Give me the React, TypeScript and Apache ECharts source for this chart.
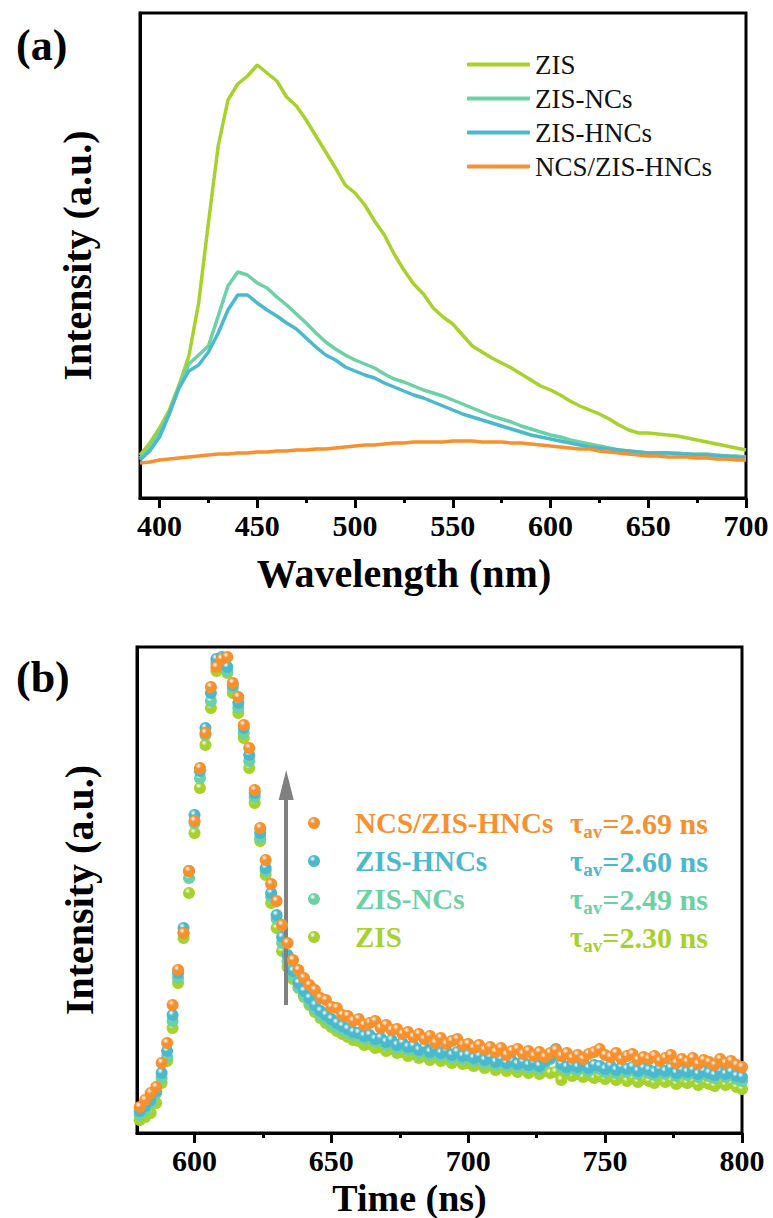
import React, { useEffect, useRef } from "react";
import * as echarts from "echarts";

// ---------- Panel (a): steady-state PL spectra ----------
const wavelengths = [
  390, 395, 400, 405, 410, 415, 420, 425, 430, 435,
  440, 445, 450, 455, 460, 465, 470, 475, 480, 485,
  490, 495, 500, 505, 510, 515, 520, 525, 530, 535,
  540, 545, 550, 555, 560, 565, 570, 575, 580, 585,
  590, 595, 600, 605, 610, 615, 620, 625, 630, 635,
  640, 645, 650, 655, 660, 665, 670, 675, 680, 685,
  690, 695, 700,
];
const plZIS = [
  43, 55, 70, 88, 113, 142, 195, 275, 352, 398,
  414, 422, 433, 425, 417, 401, 392, 378, 362, 346,
  330, 313, 305, 293, 277, 263, 244, 228, 214, 204,
  190, 181, 174, 163, 152, 146, 140, 135, 130, 124,
  118, 112, 108, 103, 97, 92, 88, 84, 79, 73,
  68, 65, 65, 64, 63, 62, 60, 58, 56, 54,
  52, 50, 48,
];
const plZISNCs = [
  40, 50, 66, 85, 112, 134, 143, 152, 182, 212,
  226, 223, 215, 210, 201, 193, 184, 175, 165, 156,
  149, 143, 138, 134, 130, 124, 119, 116, 112, 108,
  105, 102, 98, 94, 90, 86, 82, 79, 76, 72,
  69, 66, 63, 61, 58, 56, 54, 52, 50, 48,
  47, 46, 45, 45, 45, 45, 44, 44, 44, 43,
  42, 42, 41,
];
const plZISHNCs = [
  38, 47, 61, 84, 110, 127, 133, 146, 165, 188,
  203, 203, 195, 188, 182, 175, 169, 160, 151, 143,
  138, 131, 127, 123, 120, 115, 111, 107, 103, 100,
  96, 92, 88, 84, 81, 78, 75, 72, 69, 66,
  63, 61, 59, 57, 55, 53, 51, 50, 49, 48,
  47, 46, 45, 45, 45, 44, 44, 43, 43, 42,
  42, 41, 40,
];
const plNCS = [
  35, 36, 38, 39, 40, 41, 42, 43, 44, 44,
  45, 45, 46, 46, 47, 47, 48, 48, 49, 49,
  50, 51, 52, 53, 53, 54, 55, 55, 56, 56,
  56, 56, 57, 57, 57, 56, 56, 56, 55, 55,
  54, 53, 52, 51, 50, 49, 49, 47, 46, 45,
  44, 43, 42, 42, 41, 41, 41, 40, 40, 39,
  39, 38, 38,
];

// ---------- Panel (b): time-resolved PL decay ----------
const times = [
  580, 582, 584, 586, 588, 590, 592, 594, 596, 598,
  600, 602, 604, 606, 608, 610, 612, 614, 616, 618,
  620, 622, 624, 626, 628, 630, 632, 634, 636, 638,
  640, 642, 644, 646, 648, 650, 652, 654, 656, 658,
  660, 662, 664, 666, 668, 670, 672, 674, 676, 678,
  680, 682, 684, 686, 688, 690, 692, 694, 696, 698,
  700, 702, 704, 706, 708, 710, 712, 714, 716, 718,
  720, 722, 724, 726, 728, 730, 732, 734, 736, 738,
  740, 742, 744, 746, 748, 750, 752, 754, 756, 758,
  760, 762, 764, 766, 768, 770, 772, 774, 776, 778,
  780, 782, 784, 786, 788, 790, 792, 794, 796, 798,
  800,
];
const trNCS = [
  26, 33, 40, 46, 70, 90, 128, 163, 200, 262,
  312, 365, 400, 446, 466, 474, 476, 450, 436, 408,
  385, 343, 305, 273, 249, 232, 208, 190, 173, 163,
  155, 148, 143, 135, 133, 126, 125, 118, 117, 112,
  114, 108, 110, 112, 105, 108, 103, 104, 99, 101,
  96, 99, 94, 97, 90, 95, 89, 92, 94, 88,
  89, 85, 88, 83, 86, 81, 85, 78, 82, 84,
  79, 82, 77, 81, 76, 80, 83, 77, 80, 75,
  78, 74, 79, 81, 84, 78, 76, 80, 74, 77,
  79, 73, 76, 74, 77, 72, 75, 78, 70, 74,
  71, 75, 69, 73, 71, 68, 74, 70, 72, 68,
  66,
];
const trZISHNCs = [
  22, 27, 33, 42, 60, 82, 118, 160, 205, 262,
  318, 362, 405, 440, 474, 476, 466, 448, 430, 405,
  378, 340, 300, 265, 240, 218, 196, 178, 162, 150,
  142, 135, 128, 122, 118, 114, 110, 107, 104, 101,
  100, 97, 98, 94, 95, 91, 93, 88, 90, 86,
  87, 83, 86, 81, 84, 80, 82, 78, 81, 77,
  78, 75, 77, 73, 76, 71, 74, 70, 72, 69,
  71, 68, 70, 67, 72, 75, 84, 69, 66, 68,
  66, 69, 65, 68, 67, 64, 67, 63, 66, 64,
  66, 62, 65, 63, 61, 64, 62, 65, 60, 63,
  61, 63, 59, 62, 60, 58, 62, 59, 61, 57,
  56,
];
const trZISNCs = [
  18, 23, 30, 40, 55, 76, 112, 155, 200, 255,
  310, 355, 398, 432, 470, 474, 462, 445, 425, 400,
  372, 336, 295, 262, 236, 214, 190, 172, 157, 146,
  138, 130, 124, 118, 114, 110, 106, 103, 100, 98,
  97, 94, 95, 91, 92, 88, 90, 85, 87, 83,
  84, 80, 83, 78, 81, 77, 79, 75, 78, 74,
  75, 72, 74, 70, 73, 68, 71, 67, 69, 66,
  68, 65, 67, 64, 70, 74, 78, 66, 63, 65,
  63, 66, 62, 65, 64, 61, 64, 60, 63, 61,
  63, 59, 62, 60, 58, 61, 59, 62, 57, 60,
  58, 60, 56, 59, 57, 55, 59, 56, 58, 54,
  52,
];
const trZIS = [
  13, 16, 20, 30, 50, 72, 105, 150, 195, 240,
  300, 345, 388, 425, 462, 472, 460, 440, 420, 395,
  365, 330, 292, 258, 230, 205, 182, 166, 154, 145,
  136, 128, 121, 115, 110, 106, 102, 99, 96, 93,
  92, 88, 89, 85, 86, 82, 84, 80, 81, 77,
  79, 75, 77, 73, 76, 72, 74, 70, 73, 69,
  70, 67, 69, 65, 68, 63, 66, 62, 65, 61,
  64, 60, 63, 59, 62, 60, 61, 53, 60, 57,
  59, 56, 58, 55, 57, 54, 57, 53, 56, 52,
  55, 51, 54, 52, 50, 54, 51, 53, 49, 52,
  50, 52, 48, 51, 49, 47, 51, 48, 50, 46,
  44,
];

// ---------- labels / ticks ----------
const seriesNames = ["ZIS", "ZIS-NCs", "ZIS-HNCs", "NCS/ZIS-HNCs"];
const seriesColors = ["#A6D22B", "#6CD1A5", "#4AB9CE", "#F7902D"];
const tauValues = ["2.30", "2.49", "2.60", "2.69"];
const xMajorA = [400, 450, 500, 550, 600, 650, 700];
const xMinorA = [425, 475, 525, 575, 625, 675];
const xMajorB = [600, 650, 700, 750, 800];
const xMinorB = [625, 675, 725, 775];
const arrowTime = 633.5;
const arrowFrom = 128;
const arrowTo = 348;

const FONT = '"Liberation Serif", "Times New Roman", serif';

function ball(c: string) {
  return {
    type: "radial",
    x: 0.38,
    y: 0.32,
    r: 0.68,
    colorStops: [
      { offset: 0, color: "#ffffff" },
      { offset: 0.35, color: c },
      { offset: 1, color: c },
    ],
  };
}

export default function App() {
  const ref = useRef<HTMLDivElement>(null);

  useEffect(() => {
    if (!ref.current) return;
    const chart = echarts.init(ref.current, null, { renderer: "svg" });

    const plData = [plZIS, plZISNCs, plZISHNCs, plNCS];
    const trData = [trZIS, trZISNCs, trZISHNCs, trNCS];

    const majorAxis = (
      grid: number, min: number, max: number, vals: number[],
      name: string, nameGap: number, nameSize: number, shiftPad: number
    ) => ({
      type: "value",
      gridIndex: grid,
      position: "bottom",
      min,
      max,
      name,
      nameLocation: "middle",
      nameGap,
      nameTextStyle: {
        fontFamily: FONT, fontWeight: "bold", fontSize: nameSize, color: "#000",
        padding: [0, shiftPad, 0, 0],
      },
      axisLine: { show: true, onZero: false, lineStyle: { color: "#000", width: 3 } },
      axisTick: { show: true, inside: false, length: 10, customValues: vals, lineStyle: { color: "#000", width: 3 } },
      axisLabel: { show: true, customValues: vals, margin: 12, fontFamily: FONT, fontWeight: "bold", fontSize: 30, color: "#000" },
      splitLine: { show: false },
    });
    const minorAxis = (grid: number, min: number, max: number, vals: number[]) => ({
      type: "value",
      gridIndex: grid,
      position: "bottom",
      min,
      max,
      axisLine: { show: false, onZero: false },
      axisTick: { show: true, inside: false, length: 5, customValues: vals, lineStyle: { color: "#000", width: 3 } },
      axisLabel: { show: false, customValues: vals },
      splitLine: { show: false },
    });
    const yAxis = (grid: number, max: number, nameGap: number) => ({
      type: "value",
      gridIndex: grid,
      position: "left",
      min: 0,
      max,
      name: "Intensity (a.u.)",
      nameLocation: "middle",
      nameGap,
      nameTextStyle: { fontFamily: FONT, fontWeight: "bold", fontSize: 40, color: "#000" },
      axisLine: { show: true, onZero: false, lineStyle: { color: "#000", width: 3 } },
      axisTick: { show: false },
      axisLabel: { show: false },
      splitLine: { show: false },
    });

    const lineSeries = seriesNames.map((n, i) => ({
      type: "line",
      name: n,
      xAxisIndex: 0,
      yAxisIndex: 0,
      data: wavelengths.map((w, k) => [w, plData[i][k]]),
      showSymbol: false,
      symbol: "none",
      lineStyle: { color: seriesColors[i], width: 3.5 },
      itemStyle: { color: seriesColors[i] },
      z: 2 + i,
    }));

    const scatterSeries = seriesNames.map((n, i) => ({
      type: "scatter",
      name: n,
      xAxisIndex: 2,
      yAxisIndex: 1,
      data: times.map((t, k) => [t, trData[i][k]]),
      symbol: "circle",
      symbolSize: 12,
      itemStyle: { color: ball(seriesColors[i]) as any, opacity: 1 },
      z: 2 + i,
      ...(i === 0
        ? {
            markLine: {
              silent: true,
              symbol: ["none", "triangle"],
              symbolSize: [15, 30],
              lineStyle: { color: "#808080", width: 4, type: "solid" },
              itemStyle: { color: "#808080" },
              label: { show: false },
              emphasis: { disabled: true },
              data: [[{ coord: [arrowTime, arrowFrom] }, { coord: [arrowTime, arrowTo] }]],
            },
          }
        : {}),
    }));

    // legend (b) built as graphic rows (order as in the figure: top = NCS/ZIS-HNCs)
    const legendOrder = [3, 2, 1, 0];
    const rowY = [823, 861, 899, 937];
    const legendB: any[] = [];
    legendOrder.forEach((si, r) => {
      const y = rowY[r];
      const c = seriesColors[si];
      legendB.push({
        type: "circle",
        shape: { cx: 314, cy: y, r: 6 },
        style: { fill: ball(c) as any },
        z: 10,
      });
      legendB.push({
        type: "text",
        x: 355,
        y,
        style: {
          text: seriesNames[si],
          font: `bold 29px ${FONT}`,
          fill: c,
          verticalAlign: "middle",
          align: "left",
        },
        z: 10,
      });
      legendB.push({
        type: "text",
        x: 570,
        y,
        style: {
          text: `{t|τ}{s|av}{v|=${tauValues[si]} ns}`,
          verticalAlign: "middle",
          align: "left",
          rich: {
            t: { font: `bold 29px ${FONT}`, fill: c, lineHeight: 36, verticalAlign: "middle" },
            s: { font: `bold 19px ${FONT}`, fill: c, lineHeight: 18, verticalAlign: "bottom" },
            v: { font: `bold 30px ${FONT}`, fill: c, lineHeight: 36, verticalAlign: "middle" },
          },
        },
        z: 10,
      });
    });

    chart.setOption({
      animation: false,
      backgroundColor: "#ffffff",
      textStyle: { fontFamily: FONT },
      title: [
        { text: "(a)", left: 11, top: 18, textStyle: { fontFamily: FONT, fontWeight: "bold", fontSize: 44, color: "#000" } },
        { text: "(b)", left: 11, top: 650, textStyle: { fontFamily: FONT, fontWeight: "bold", fontSize: 44, color: "#000" } },
      ],
      legend: [
        {
          data: seriesNames,
          orient: "vertical",
          left: 462,
          top: 46,
          itemWidth: 63,
          itemHeight: 4,
          itemGap: 7,
          icon: "roundRect",
          selectedMode: false,
          textStyle: { fontFamily: FONT, fontSize: 27, color: "#111" },
        },
      ],
      grid: [
        { left: 140, top: 13, width: 606, height: 485, show: true, borderColor: "#000", borderWidth: 3, backgroundColor: "transparent", containLabel: false },
        { left: 137, top: 647, width: 605, height: 486, show: true, borderColor: "#000", borderWidth: 3, backgroundColor: "transparent", containLabel: false },
      ],
      xAxis: [
        majorAxis(0, 390, 700, xMajorA, "Wavelength (nm)", 55, 40, 78),
        minorAxis(0, 390, 700, xMinorA),
        majorAxis(1, 579, 800, xMajorB, "Time (ns)", 46, 38, 60),
        minorAxis(1, 579, 800, xMinorB),
      ],
      yAxis: [yAxis(0, 485, 43), yAxis(1, 486, 38)],
      series: [...lineSeries, ...scatterSeries],
      graphic: legendB,
    } as any);

    return () => chart.dispose();
  }, []);

  return (
    <div
      ref={ref}
      style={{ position: "fixed", left: 0, top: 0, width: 773, height: 1218, background: "#fff" }}
    />
  );
}
